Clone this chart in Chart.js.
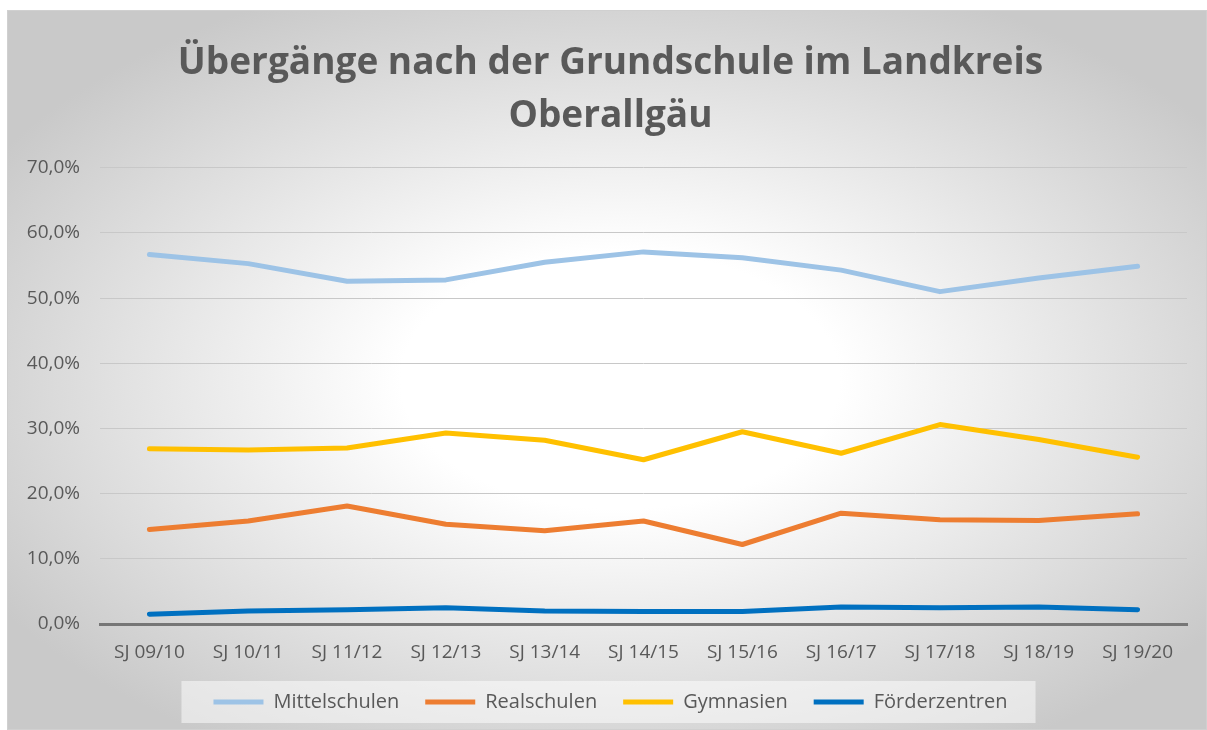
<!DOCTYPE html>
<html>
<head>
<meta charset="utf-8">
<script src="https://cdn.jsdelivr.net/npm/chart.js@4/dist/chart.umd.min.js"></script>
<style>
  html, body { margin: 0; padding: 0; background: #ffffff; }
  #wrap { width: 1207px; height: 730px; position: relative; }
</style>
</head>
<body>
<div id="wrap"><canvas id="chart"></canvas></div>
<script>
/* Übergänge nach der Grundschule – line chart */

var schoolYears = ['SJ 09/10', 'SJ 10/11', 'SJ 11/12', 'SJ 12/13', 'SJ 13/14', 'SJ 14/15',
  'SJ 15/16', 'SJ 16/17', 'SJ 17/18', 'SJ 18/19', 'SJ 19/20'];
var mittelschulen = [56.7, 55.3, 52.6, 52.8, 55.5, 57.1, 56.2, 54.3, 51.0, 53.1, 54.9];
var realschulen = [14.5, 15.8, 18.1, 15.3, 14.3, 15.8, 12.2, 17.0, 16.0, 15.9, 16.9];
var gymnasien = [26.9, 26.7, 27.0, 29.3, 28.2, 25.2, 29.5, 26.2, 30.6, 28.3, 25.6];
var foerderzentren = [1.5, 2.0, 2.2, 2.5, 2.0, 1.9, 1.9, 2.6, 2.5, 2.6, 2.2];
var titleLines = ['Übergänge nach der Grundschule im Landkreis', 'Oberallgäu'];

var textColor = '#595959';
var fontFamily = '"Open Sans", "Liberation Sans", sans-serif';

function pct(v) {
  return Number(v).toFixed(1).replace('.', ',') + '%';
}

// gradient panel, frame and legend backdrop
var backdrop = {
  id: 'backdrop',
  afterLayout: function (chart) {
    // let the y labels run into the left margin without being clipped
    if (chart.scales.y) chart.scales.y.left = 0;
  },
  beforeDraw: function (chart) {
    var ctx = chart.ctx;
    var w = chart.width, h = chart.height;
    ctx.save();
    ctx.fillStyle = '#ffffff';
    ctx.fillRect(0, 0, w, h);

    ctx.save();
    ctx.beginPath();
    ctx.rect(7, 10, w - 7, h - 10);
    ctx.clip();
    ctx.translate(620, 380);
    ctx.scale(1.7, 1);
    var g = ctx.createRadialGradient(0, 0, 0, 0, 0, 430);
    g.addColorStop(0, '#ffffff');
    g.addColorStop(0.3, '#ffffff');
    g.addColorStop(1, '#c9c9c9');
    ctx.fillStyle = g;
    ctx.fillRect(-400, -400, 800, 800);
    ctx.restore();

    ctx.strokeStyle = '#d0d0d0';
    ctx.lineWidth = 1;
    ctx.strokeRect(7.5, 10.5, w - 8, h - 11);

    var boxes = chart.legend && chart.legend.legendHitBoxes;
    if (boxes && boxes.length) {
      var left = boxes[0].left - 32;
      var last = boxes[boxes.length - 1];
      var right = last.left + last.width + 28;
      var top = boxes[0].top + boxes[0].height / 2 - 21;
      ctx.fillStyle = 'rgba(255,255,255,0.5)';
      ctx.fillRect(left, top, right - left, 42);
    }
    ctx.restore();
  }
};

function series(label, data, color) {
  return {
    label: label,
    data: data,
    borderColor: color,
    backgroundColor: color,
    borderWidth: 5,
    borderCapStyle: 'round',
    borderJoinStyle: 'round',
    pointRadius: 0,
    pointHoverRadius: 0,
    tension: 0,
    fill: false
  };
}

new Chart(document.getElementById('chart'), {
  type: 'line',
  data: {
    labels: schoolYears,
    datasets: [
      series('Mittelschulen', mittelschulen, '#9dc3e6'),
      series('Realschulen', realschulen, '#ed7d31'),
      series('Gymnasien', gymnasien, '#ffc000'),
      series('Förderzentren', foerderzentren, '#0070c0')
    ]
  },
  options: {
    responsive: true,
    maintainAspectRatio: false,
    animation: false,
    layout: { padding: { left: 34, right: 20, top: 0, bottom: 8 } },
    plugins: {
      title: {
        display: true,
        text: titleLines,
        color: textColor,
        font: { family: fontFamily, size: 37, weight: 'bold', lineHeight: 1.43 },
        padding: { top: 37, bottom: 25 }
      },
      legend: {
        position: 'bottom',
        labels: {
          color: textColor,
          font: { family: fontFamily, size: 20 },
          usePointStyle: true,
          pointStyle: 'line',
          pointStyleWidth: 50,
          padding: 26
        }
      },
      tooltip: { enabled: false }
    },
    scales: {
      x: {
        offset: true,
        afterFit: function (scale) { scale.height = 42; },
        grid: { display: false, drawTicks: false, offset: false },
        border: { display: true, color: '#767676', width: 3 },
        ticks: {
          color: textColor,
          font: { family: fontFamily, size: 19 },
          padding: 17,
          maxRotation: 0
        }
      },
      y: {
        min: 0,
        max: 70,
        afterFit: function (scale) { scale.width = 66; },
        grid: { color: '#c8c8c8', lineWidth: 1, drawTicks: false },
        border: { display: false },
        ticks: {
          stepSize: 10,
          color: textColor,
          font: { family: fontFamily, size: 19 },
          padding: 20,
          callback: function (v) { return pct(v); }
        }
      }
    }
  },
  plugins: [backdrop]
});
</script>
</body>
</html>
